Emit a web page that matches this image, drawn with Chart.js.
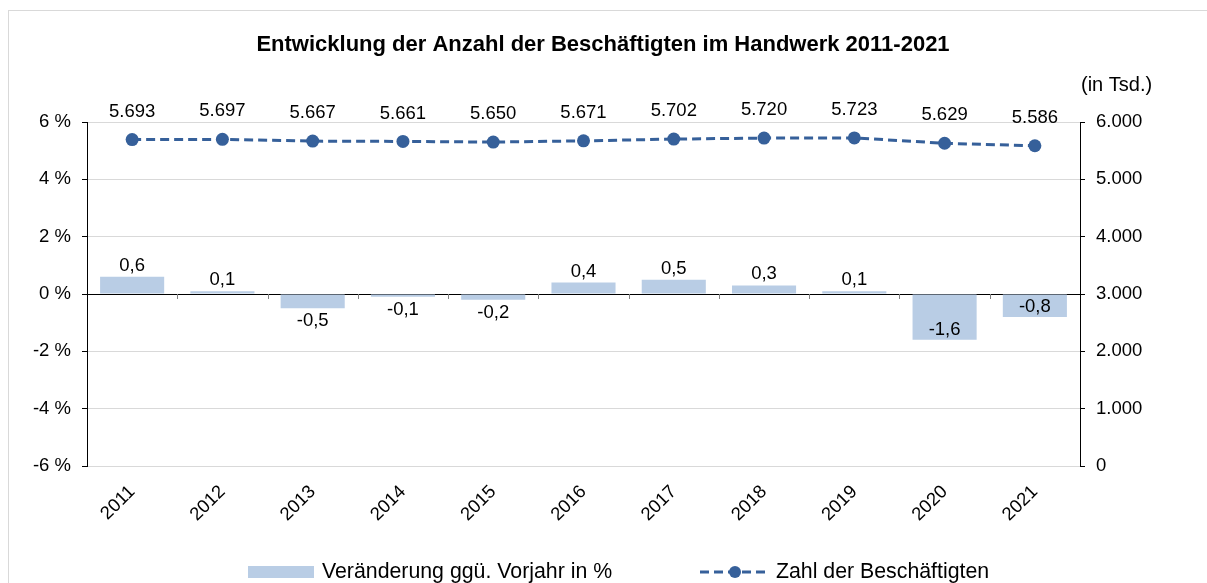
<!DOCTYPE html>
<html lang="de">
<head>
<meta charset="utf-8">
<title>Beschäftigte im Handwerk</title>
<script src="https://cdn.jsdelivr.net/npm/chart.js@4.4.1/dist/chart.umd.min.js"></script>
<style>
    html, body { margin: 0; padding: 0; background: #fff; }
    #wrap { position: relative; width: 1207px; height: 583px; overflow: hidden; }
    #frame { position: absolute; left: 8px; top: 10px; width: 1230px; height: 620px; border: 1px solid #d9d9d9; }
    #chart { position: absolute; left: 0; top: 0; }
</style>
</head>
<body>
<div id="wrap">
    <div id="frame"></div>
    <canvas id="chart" width="1207" height="583"></canvas>
</div>
<script>
// Data
const years = ['2011', '2012', '2013', '2014', '2015', '2016', '2017', '2018', '2019', '2020', '2021'];
const changePct = [0.6, 0.1, -0.5, -0.1, -0.2, 0.4, 0.5, 0.3, 0.1, -1.6, -0.8];
const employees = [5693, 5697, 5667, 5661, 5650, 5671, 5702, 5720, 5723, 5629, 5586];
const pctTicks = [-6, -4, -2, 0, 2, 4, 6];
const tsdTicks = [0, 1000, 2000, 3000, 4000, 5000, 6000];

const chartTitle = 'Entwicklung der Anzahl der Beschäftigten im Handwerk 2011-2021';
const barLabel = 'Veränderung ggü. Vorjahr in %';
const lineLabel = 'Zahl der Beschäftigten';

const barColor = '#b9cde5';
const lineColor = '#36609a';
const FONT = '"Liberation Sans", Arial, sans-serif';

// Formatting helpers
function fmtThousand(v) {
    const th = Math.floor(v / 1000);
    const rest = String(v % 1000).padStart(3, '0');
    return th > 0 ? th + '.' + rest : String(v);
}

function fmtPct(v) {
    return String(v).replace('.', ',');
}

// Title, unit, value labels, axis tick marks and legend
const extrasPlugin = {
    id: 'extras',
    afterDatasetsDraw(chart) {
        const ctx = chart.ctx;
        const x = chart.scales.x;
        const yL = chart.scales.yPct;
        const zero = yL.getPixelForValue(0);

        ctx.save();

        // small marks between categories on the zero line
        ctx.strokeStyle = '#808080';
        ctx.lineWidth = 1;
        for (let i = 1; i < years.length; i++) {
            const px = Math.round((x.getPixelForValue(i - 1) + x.getPixelForValue(i)) / 2) + 0.5;
            ctx.beginPath();
            ctx.moveTo(px, zero);
            ctx.lineTo(px, zero + 5);
            ctx.stroke();
        }

        ctx.fillStyle = '#000';
        ctx.font = '18.5px ' + FONT;
        ctx.textAlign = 'center';
        ctx.textBaseline = 'middle';

        // bar labels
        chart.getDatasetMeta(0).data.forEach((bar, i) => {
            const v = changePct[i];
            let ly;
            if (v >= 0) {
                ly = bar.y - 11;
            } else if (v <= -0.8) {
                ly = bar.y - 10;
            } else {
                ly = bar.y + 13;
            }
            ctx.fillText(fmtPct(v), bar.x, ly);
        });

        // line labels
        chart.getDatasetMeta(1).data.forEach((pt, i) => {
            ctx.fillText(fmtThousand(employees[i]), pt.x, pt.y - 28);
        });

        ctx.restore();
    },
    afterDraw(chart) {
        const ctx = chart.ctx;
        ctx.save();
        ctx.fillStyle = '#000';
        ctx.textBaseline = 'middle';

        // title
        ctx.font = 'bold 22px ' + FONT;
        ctx.textAlign = 'center';
        ctx.fillText(chartTitle, 603, 45);

        // unit
        ctx.font = '20px ' + FONT;
        ctx.textAlign = 'left';
        ctx.fillText('(in Tsd.)', 1081, 85);

        // legend
        const ly = 572;
        ctx.fillStyle = barColor;
        ctx.fillRect(248, ly - 6, 66, 12);
        ctx.fillStyle = '#000';
        ctx.font = '21.3px ' + FONT;
        ctx.fillText(barLabel, 322, ly);

        ctx.strokeStyle = lineColor;
        ctx.lineWidth = 3;
        ctx.setLineDash([9, 5]);
        ctx.beginPath();
        ctx.moveTo(700, ly);
        ctx.lineTo(770, ly);
        ctx.stroke();
        ctx.setLineDash([]);
        ctx.fillStyle = lineColor;
        ctx.beginPath();
        ctx.arc(735, ly, 6, 0, Math.PI * 2);
        ctx.fill();
        ctx.fillStyle = '#000';
        ctx.fillText(lineLabel, 776, ly);

        ctx.restore();
    }
};

const ctx = document.getElementById('chart').getContext('2d');

new Chart(ctx, {
    data: {
        labels: years,
        datasets: [
            {
                type: 'bar',
                label: barLabel,
                data: changePct,
                backgroundColor: barColor,
                yAxisID: 'yPct',
                categoryPercentage: 1,
                barPercentage: 0.71,
                order: 1
            },
            {
                type: 'line',
                label: lineLabel,
                data: employees,
                borderColor: lineColor,
                backgroundColor: lineColor,
                borderWidth: 3,
                borderDash: [9, 5],
                pointRadius: 6.5,
                pointBackgroundColor: lineColor,
                pointBorderWidth: 0,
                tension: 0,
                yAxisID: 'yTsd',
                order: 0
            }
        ]
    },
    options: {
        responsive: false,
        animation: false,
        layout: {
            padding: { top: 122, left: 0, right: 0, bottom: 0 }
        },
        plugins: {
            legend: { display: false },
            title: { display: false },
            tooltip: { enabled: false }
        },
        scales: {
            x: {
                grid: { display: false, drawTicks: false },
                border: { display: false },
                ticks: {
                    color: '#000',
                    font: { family: FONT, size: 18.5 },
                    minRotation: 45,
                    maxRotation: 45,
                    padding: 15
                },
                afterFit(scale) { scale.height = 117; }
            },
            yPct: {
                position: 'left',
                min: -6,
                max: 6,
                afterBuildTicks(scale) { scale.ticks = pctTicks.map(v => ({ value: v })); },
                grid: {
                    color: c => (c.tick && c.tick.value === 0 ? '#000' : '#d9d9d9'),
                    lineWidth: 1,
                    tickLength: 5,
                    tickColor: '#000'
                },
                border: { color: '#000' },
                ticks: {
                    color: '#000',
                    font: { family: FONT, size: 18.5 },
                    padding: 11,
                    callback: v => v + ' %'
                },
                afterFit(scale) { scale.width = 87; }
            },
            yTsd: {
                position: 'right',
                min: 0,
                max: 6000,
                afterBuildTicks(scale) { scale.ticks = tsdTicks.map(v => ({ value: v })); },
                grid: {
                    drawOnChartArea: false,
                    tickLength: 5,
                    tickColor: '#000'
                },
                border: { color: '#000' },
                ticks: {
                    color: '#000',
                    font: { family: FONT, size: 18.5 },
                    padding: 11,
                    callback: v => fmtThousand(v)
                },
                afterFit(scale) { scale.width = 127; }
            }
        }
    },
    plugins: [extrasPlugin]
});
</script>
</body>
</html>
